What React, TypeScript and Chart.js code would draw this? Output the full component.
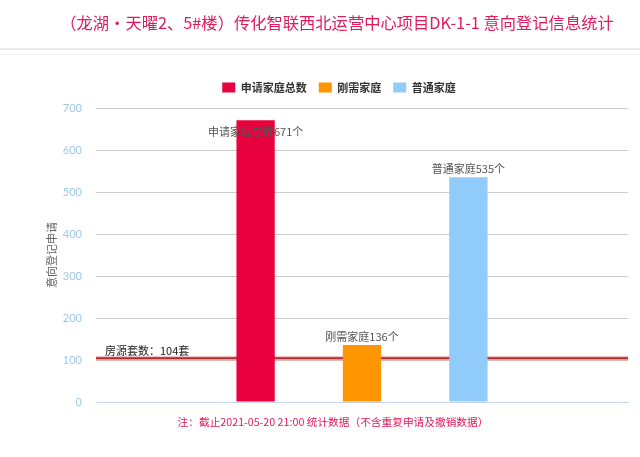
import React, { useEffect, useRef } from "react";
import { Chart, registerables } from "chart.js";

Chart.register(...registerables);

const categories = ["", "", "", "", ""];
const seriesNames = ["申请家庭总数", "刚需家庭", "普通家庭"];
const seriesValues = [671, 136, 535];
const seriesCategoryIndex = [1, 2, 3];
const seriesLabelTexts = ["申请家庭总数671个", "刚需家庭136个", "普通家庭535个"];
const houseCount = 104;
const houseLabel = "房源套数：104套";
const yMin = 0;
const yMax = 700;
const yStep = 100;
const yTitle = "意向登记申请";
const titleText = "（龙湖·天曜2、5#楼）传化智联西北运营中心项目DK-1-1 意向登记信息统计";
const noteText = "注：截止2021-05-20 21:00 统计数据（不含重复申请及撤销数据）";

const colors = ["#e8003f", "#ff9500", "#90cbf9"];
const labelInside = [true, false, false];
const FONT = "'Noto Sans CJK SC', 'Noto Sans', sans-serif";

export default function App() {
  const ref = useRef<HTMLCanvasElement | null>(null);
  useEffect(() => {
    document.body.style.margin = "0";
    const canvas = ref.current;
    if (!canvas) return;

    const datasets = seriesNames.map((name, i) => ({
      label: name,
      data: categories.map((_, c) => (c === seriesCategoryIndex[i] ? seriesValues[i] : null)),
      backgroundColor: colors[i],
      borderWidth: 0,
      barPercentage: 0.36,
      categoryPercentage: 1,
    }));

    const legendShift = {
      id: "legendShift",
      afterLayout(chart: any) {
        const lg = chart.legend;
        if (!lg) return;
        lg.left += 25;
        lg.right += 25;
        lg.top -= 5;
        lg.bottom -= 5;
      },
    };

    const refLine = {
      id: "refLine",
      beforeDatasetsDraw(chart: any) {
        const { ctx, chartArea } = chart;
        const y = chart.scales.y.getPixelForValue(houseCount);
        ctx.save();
        ctx.strokeStyle = "rgba(240,170,170,0.7)";
        ctx.lineWidth = 5;
        ctx.beginPath();
        ctx.moveTo(chartArea.left, y);
        ctx.lineTo(chartArea.right, y);
        ctx.stroke();
        ctx.strokeStyle = "#b22a2a";
        ctx.lineWidth = 2;
        ctx.beginPath();
        ctx.moveTo(chartArea.left, y);
        ctx.lineTo(chartArea.right, y);
        ctx.stroke();
        ctx.fillStyle = "#222";
        ctx.font = `11px ${FONT}`;
        ctx.textAlign = "left";
        ctx.textBaseline = "middle";
        ctx.fillText(houseLabel, chartArea.left + 9, y - 8);
        ctx.restore();
      },
    };

    const barLabels = {
      id: "barLabels",
      afterDatasetsDraw(chart: any) {
        const { ctx } = chart;
        ctx.save();
        ctx.font = `11px ${FONT}`;
        ctx.fillStyle = "#555";
        ctx.textAlign = "center";
        ctx.textBaseline = "middle";
        seriesNames.forEach((_, i) => {
          const meta = chart.getDatasetMeta(i);
          const el = meta.data[seriesCategoryIndex[i]];
          if (!el) return;
          const y = labelInside[i] ? el.y + 12 : el.y - 8;
          ctx.fillText(seriesLabelTexts[i], el.x, y);
        });
        ctx.restore();
      },
    };

    const chart = new Chart(canvas, {
      type: "bar",
      data: { labels: categories, datasets: datasets as any },
      options: {
        animation: false,
        responsive: false,
        layout: { padding: { top: 75, right: 12, bottom: 55, left: 0 } },
        plugins: {
          legend: {
            display: true,
            position: "top",
            labels: {
              boxWidth: 13,
              boxHeight: 10,
              padding: 12,
              color: "#333",
              font: { family: FONT, size: 11, weight: "bold" },
            },
          },
          tooltip: { enabled: false },
          title: { display: false },
        },
        scales: {
          x: {
            stacked: true,
            grid: { display: false, drawTicks: false },
            ticks: { display: false },
            border: { display: true, color: "#c8d4ea", width: 1 },
          },
          y: {
            stacked: true,
            min: yMin,
            max: yMax,
            ticks: {
              stepSize: yStep,
              padding: 14,
              color: "#9bc9ea",
              font: { family: "Lato, 'Noto Sans', sans-serif", size: 11 },
            },
            grid: { color: "#cbcbcb", drawTicks: false },
            border: { display: false },
            title: {
              display: true,
              text: yTitle,
              color: "#666",
              font: { family: FONT, size: 11 },
              padding: { top: 45, bottom: 0 },
            },
            afterFit(scale: any) {
              scale.width = 96;
            },
          },
        },
      },
      plugins: [legendShift, refLine, barLabels],
    });
    return () => chart.destroy();
  }, []);

  return (
    <div style={{ position: "relative", width: 640, height: 457, background: "#fff", overflow: "hidden" }}>
      <canvas ref={ref} width={640} height={457} style={{ position: "absolute", left: 0, top: 0 }} />
      <div
        style={{
          position: "absolute",
          left: 337,
          top: 10,
          transform: "translateX(-50%)",
          whiteSpace: "nowrap",
          fontFamily: FONT,
          fontSize: 16.3,
          lineHeight: "24px",
          color: "#e2195b",
        }}
      >
        {titleText}
      </div>
      <div style={{ position: "absolute", left: 0, top: 48, width: 640, height: 2, background: "#e9e9e9" }} />
      <div style={{ position: "absolute", left: 0, top: 54, width: 640, height: 1, background: "#f6f6f6" }} />
      <div
        style={{
          position: "absolute",
          left: 333,
          top: 414,
          transform: "translateX(-50%)",
          whiteSpace: "nowrap",
          fontFamily: FONT,
          fontSize: 10.7,
          lineHeight: "16px",
          color: "#e2195b",
        }}
      >
        {noteText}
      </div>
    </div>
  );
}
